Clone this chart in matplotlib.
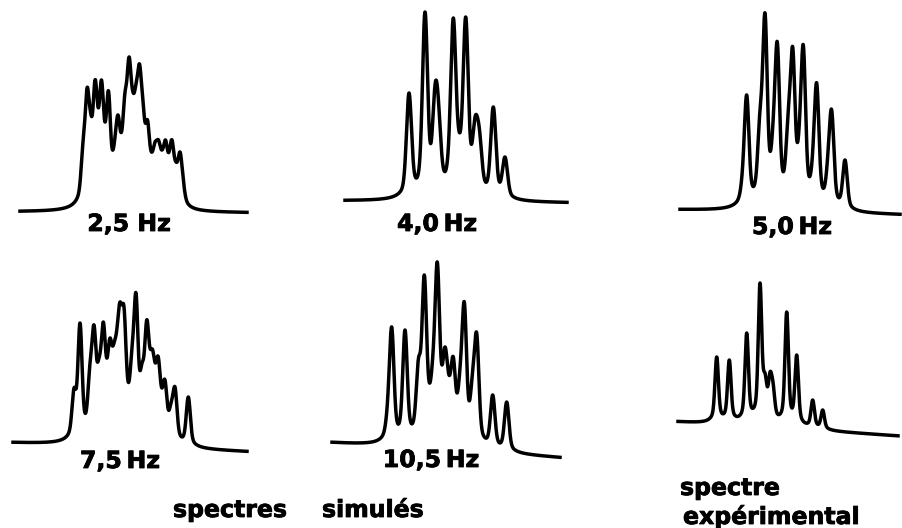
import numpy as np
import matplotlib.pyplot as plt
import matplotlib.patheffects as pe

plt.rcParams['font.family'] = ['DejaVu Sans']

W, H = 903, 528

# peak positions (px from trace start) and apparent heights (px above left baseline)
p25_pos = [63, 67, 70.5, 75, 78, 81.5, 85, 88.5, 92.5, 95, 98, 101.5, 105, 109, 112.5, 116,
           119.5, 123, 127.5, 131.5, 135, 138.5, 142, 145.5, 149, 152, 156, 160, 163]
p25_hgt = [70, 124, 100, 132, 105, 132, 90, 121, 62, 75, 97, 80, 120, 155, 122, 128,
           148, 110, 92, 60, 70, 72, 62, 72, 60, 72, 50, 60, 35]

p40_pos = [60.5, 64, 80, 90, 93.5, 104.5, 108.3, 114, 120.7, 130, 134.3, 148.3, 157, 160]
p40_hgt = [45, 108, 189, 116, 100, 80, 183, 70, 184, 84, 73, 94, 25, 44]

p50_pos = [63, 66.7, 80, 85, 93.3, 97.3, 108.3, 112.7, 119.5, 123.3, 133.3, 136.7, 148.3, 151.7, 165]
p50_hgt = [50, 115, 100, 197, 93, 168, 100, 163, 90, 165, 70, 127, 63, 100, 50]

p75_pos = [61, 67, 77, 81, 86, 90.3, 94, 97, 101, 104, 107, 111, 115, 119, 123, 129, 133.7,
           137, 139.7, 142.5, 145.3, 149, 152, 158, 162, 175.3]
p75_hgt = [55, 120, 80, 118, 85, 121, 85, 105, 100, 115, 141, 136, 62, 95, 150, 80, 123,
           95, 93, 80, 86, 55, 63, 40, 56, 46]

p105_pos = [56, 59.7, 73, 86.5, 92.3, 97, 101, 105.3, 109.5, 113, 116.5, 119, 121.3, 128, 132.3,
            140.5, 144.7, 160.7, 174.7]
p105_hgt = [50, 116, 113, 85, 168, 62, 90, 181, 80, 96, 70, 75, 86, 75, 141, 70, 110, 48, 41]

pexp_pos = [38.7, 51.3, 68.7, 82, 87, 92, 95, 108.7, 118.7, 134.7, 144.7]
pexp_hgt = [65, 62, 89, 139, 49, 50, 40, 110, 67, 22, 12]

# trace frame in the page: left px, right px, baseline px, baseline drift,
# line sigma, lorentzian share
panels = [
    (p25_pos, p25_hgt, 20, 247, 212, -1, 1.8, 0.25, '2,5 Hz', 129, 231),
    (p40_pos, p40_hgt, 345, 567, 201, -2, 2.4, 0.18, '4,0\u2009Hz', 437, 231),
    (p50_pos, p50_hgt, 680, 900, 210, -5, 2.1, 0.2, '5,0\u2009Hz', 792, 234),
    (p75_pos, p75_hgt, 13, 247, 443, -9, 1.9, 0.22, '7,5\u2009Hz', 120, 468),
    (p105_pos, p105_hgt, 332, 560, 443, -15, 2.1, 0.2, '10,5\u2009Hz', 431, 467),
    (pexp_pos, pexp_hgt, 678, 898, 422, -14, 1.6, 0.25, None, 0, 0),
]

TAIL = 2.6  # lorentzian half width, in units of the gaussian sigma


def line(x, p, s, eta):
    d2 = (x - p) ** 2
    g = TAIL * s
    return (1 - eta) * np.exp(-d2 / (2 * s * s)) + eta * g * g / (d2 + g * g)


def fit_amps(pos, target, s, eta):
    M = line(pos[:, None], pos[None, :], s, eta)
    amp = target.copy()
    for _ in range(800):
        amp = amp * target / (M @ amp)
    return amp


fig = plt.figure(figsize=(W / 100, H / 100), dpi=100)
bold = dict(fontsize=17, fontweight='bold',
            path_effects=[pe.withStroke(linewidth=0.6, foreground='black')])

for pos, hgt, x0, x1, yb, drift, s, eta, label, lx, ly in panels:
    span = x1 - x0
    ax = fig.add_axes([x0 / W, (H - yb - 30) / H, span / W, 230 / H])
    ax.set_xlim(0, span)
    ax.set_ylim(-30, 200)
    ax.axis('off')
    pos = np.asarray(pos, float)
    target = np.asarray(hgt, float) - drift * pos / span
    amp = fit_amps(pos, target, s, eta)
    x = np.linspace(0, span, 3000)
    y = drift * x / span + sum(a * line(x, p, s, eta) for p, a in zip(pos, amp))
    ax.plot(x, y, color='black', lw=2.5, solid_joinstyle='round', clip_on=False)
    if label:
        fig.text(lx / W, 1 - ly / H, label, ha='center', va='baseline', **bold)

fig.text(173 / W, 1 - 517 / H, 'spectres', ha='left', va='baseline', **bold)
fig.text(322 / W, 1 - 517 / H, 'simulés', ha='left', va='baseline', **bold)
fig.text(680 / W, 1 - 495 / H, 'spectre', ha='left', va='baseline', **bold)
fig.text(683 / W, 1 - 524 / H, 'expérimental', ha='left', va='baseline', **bold)

fig.savefig('out.png', dpi=100)
